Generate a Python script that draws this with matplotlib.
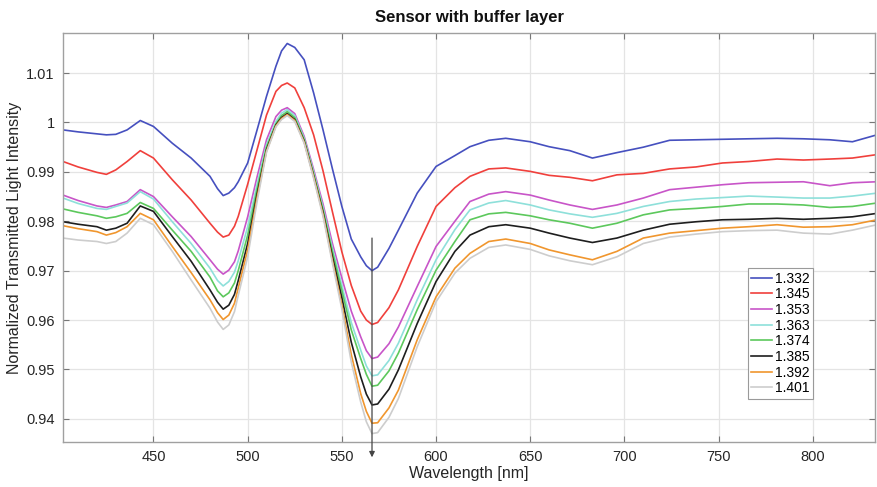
import matplotlib
matplotlib.use("Agg")
import matplotlib.pyplot as plt

plt.rcParams['font.family'] = ['Liberation Sans', 'DejaVu Sans']

wavelength = [402, 410, 420, 425, 430, 436, 443, 450, 460, 470,
              480, 484, 487, 490, 493, 495, 500, 505, 510, 515,
              518, 521, 525, 530, 535, 540, 545, 550, 555, 560,
              563, 566, 569, 575, 580, 590, 600, 610, 618, 628,
              637, 650, 660, 671, 683, 696, 710, 724, 738, 752,
              766, 781, 795, 809, 821, 834]

ri_1332 = [0.9985, 0.9981, 0.9977, 0.9975, 0.9976, 0.9985, 1.0004, 0.9992, 0.9958, 0.9928,
           0.9891, 0.9866, 0.9852, 0.9857, 0.9868, 0.9880, 0.9918, 0.9985, 1.0053, 1.0114,
           1.0145, 1.0160, 1.0152, 1.0127, 1.0060, 0.9985, 0.9906, 0.9830, 0.9764, 0.9728,
           0.9710, 0.9700, 0.9707, 0.9745, 0.9782, 0.9857, 0.9911, 0.9933, 0.9951, 0.9964,
           0.9968, 0.9961, 0.9951, 0.9943, 0.9928, 0.9939, 0.9950, 0.9964, 0.9965, 0.9966,
           0.9967, 0.9968, 0.9967, 0.9965, 0.9961, 0.9975]
ri_1345 = [0.9921, 0.9910, 0.9899, 0.9895, 0.9904, 0.9921, 0.9943, 0.9928, 0.9884, 0.9843,
           0.9796, 0.9778, 0.9768, 0.9772, 0.9790, 0.9810, 0.9875, 0.9945, 1.0015, 1.0063,
           1.0075, 1.0080, 1.0070, 1.0030, 0.9975, 0.9902, 0.9819, 0.9738, 0.9670, 0.9618,
           0.9600, 0.9591, 0.9595, 0.9625, 0.9661, 0.9749, 0.9830, 0.9868, 0.9891, 0.9906,
           0.9908, 0.9901, 0.9893, 0.9889, 0.9882, 0.9894, 0.9897, 0.9906, 0.9910, 0.9918,
           0.9921, 0.9926, 0.9924, 0.9926, 0.9928, 0.9935]
ri_1353 = [0.9853, 0.9842, 0.9831, 0.9828, 0.9833, 0.9840, 0.9864, 0.9850, 0.9809, 0.9769,
           0.9722, 0.9703, 0.9693, 0.9701, 0.9718, 0.9740, 0.9809, 0.9890, 0.9965, 1.0012,
           1.0025, 1.0030, 1.0018, 0.9972, 0.9905, 0.9835, 0.9755, 0.9685, 0.9618, 0.9566,
           0.9538, 0.9522, 0.9525, 0.9552, 0.9586, 0.9668, 0.9749, 0.9800, 0.9840, 0.9855,
           0.9860, 0.9853, 0.9843, 0.9833, 0.9824, 0.9833, 0.9847, 0.9864, 0.9869, 0.9874,
           0.9878, 0.9879, 0.9880, 0.9872, 0.9878, 0.9880]
ri_1363 = [0.9847, 0.9836, 0.9826, 0.9824, 0.9830, 0.9837, 0.9860, 0.9845, 0.9799, 0.9755,
           0.9705, 0.9680, 0.9669, 0.9678, 0.9697, 0.9720, 0.9789, 0.9875, 0.9955, 1.0002,
           1.0019, 1.0026, 1.0014, 0.9968, 0.9900, 0.9828, 0.9745, 0.9670, 0.9595, 0.9539,
           0.9507, 0.9487, 0.9489, 0.9518, 0.9553, 0.9641, 0.9722, 0.9783, 0.9823, 0.9837,
           0.9842, 0.9833, 0.9823, 0.9815, 0.9808, 0.9816, 0.9830, 0.9840, 0.9845, 0.9848,
           0.9851, 0.9849, 0.9847, 0.9847, 0.9851, 0.9857]
ri_1374 = [0.9825, 0.9818, 0.9811, 0.9806, 0.9809, 0.9816, 0.9838, 0.9826, 0.9782, 0.9739,
           0.9687, 0.9659, 0.9647, 0.9655, 0.9675, 0.9700, 0.9772, 0.9865, 0.9950, 0.9997,
           1.0014, 1.0022, 1.0010, 0.9965, 0.9896, 0.9823, 0.9738, 0.9660, 0.9580, 0.9522,
           0.9490, 0.9466, 0.9468, 0.9497, 0.9533, 0.9621, 0.9701, 0.9759, 0.9803, 0.9815,
           0.9818, 0.9811, 0.9803, 0.9796, 0.9786, 0.9796, 0.9813, 0.9823, 0.9826, 0.9830,
           0.9835, 0.9835, 0.9833, 0.9828, 0.9830, 0.9837]
ri_1385 = [0.9799, 0.9794, 0.9789, 0.9782, 0.9786, 0.9796, 0.9831, 0.9820, 0.9769, 0.9719,
           0.9661, 0.9636, 0.9622, 0.9630, 0.9652, 0.9680, 0.9755, 0.9855, 0.9945, 0.9995,
           1.0010, 1.0018, 1.0006, 0.9962, 0.9892, 0.9818, 0.9728, 0.9645, 0.9555, 0.9485,
           0.9450, 0.9428, 0.9430, 0.9460, 0.9499, 0.9593, 0.9678, 0.9739, 0.9772, 0.9789,
           0.9793, 0.9786, 0.9776, 0.9766, 0.9757, 0.9766, 0.9782, 0.9794, 0.9799, 0.9803,
           0.9804, 0.9806, 0.9804, 0.9806, 0.9809, 0.9816]
ri_1392 = [0.9791, 0.9785, 0.9779, 0.9772, 0.9777, 0.9789, 0.9816, 0.9803, 0.9749, 0.9696,
           0.9641, 0.9615, 0.9601, 0.9610, 0.9634, 0.9665, 0.9742, 0.9848, 0.9942, 0.9993,
           1.0008, 1.0016, 1.0004, 0.9960, 0.9890, 0.9814, 0.9720, 0.9630, 0.9530, 0.9451,
           0.9415, 0.9391, 0.9392, 0.9422, 0.9458, 0.9560, 0.9647, 0.9705, 0.9735, 0.9759,
           0.9764, 0.9755, 0.9742, 0.9732, 0.9722, 0.9739, 0.9766, 0.9776, 0.9781, 0.9786,
           0.9789, 0.9793, 0.9788, 0.9789, 0.9793, 0.9803]
ri_1401 = [0.9766, 0.9762, 0.9759, 0.9755, 0.9759, 0.9776, 0.9806, 0.9793, 0.9739, 0.9681,
           0.9624, 0.9596, 0.9581, 0.9590, 0.9617, 0.9650, 0.9728, 0.9840, 0.9940, 0.9991,
           1.0006, 1.0014, 1.0002, 0.9958, 0.9887, 0.9810, 0.9715, 0.9622, 0.9515, 0.9434,
           0.9394, 0.9370, 0.9372, 0.9403, 0.9441, 0.9546, 0.9637, 0.9695, 0.9725, 0.9747,
           0.9752, 0.9743, 0.9730, 0.9720, 0.9712, 0.9728, 0.9755, 0.9768, 0.9774, 0.9779,
           0.9781, 0.9782, 0.9776, 0.9774, 0.9782, 0.9793]

labels = ['1.332', '1.345', '1.353', '1.363', '1.374', '1.385', '1.392', '1.401']
series = [ri_1332, ri_1345, ri_1353, ri_1363, ri_1374, ri_1385, ri_1392, ri_1401]
colors = ['#4650bf', '#f0403c', '#c855c8', '#8ee0da', '#5cc85c', '#1e1e1e', '#f0962e', '#cdcdcd']

x_ticks = [450, 500, 550, 600, 650, 700, 750, 800]
y_ticks = [0.94, 0.95, 0.96, 0.97, 0.98, 0.99, 1.00, 1.01]
y_ticklabels = ['0.94', '0.95', '0.96', '0.97', '0.98', '0.99', '1', '1.01']
arrow_wl = 566
arrow_top = 0.9766
arrow_bottom = 0.9322

fig = plt.figure(figsize=(8.78, 4.87), dpi=100)
ax = fig.add_axes([0.0718, 0.0924, 0.9248, 0.8396])

for vals, col, lab in zip(series, colors, labels):
    ax.plot(wavelength, vals, color=col, lw=1.2, label=lab, solid_joinstyle='round')

ax.set_xlim(402, 833)
ax.set_ylim(0.9353, 1.0181)
ax.set_xticks(x_ticks)
ax.set_yticks(y_ticks)
ax.set_yticklabels(y_ticklabels)
ax.grid(True, color='#e4e4e4', lw=0.9)
ax.set_axisbelow(True)
ax.tick_params(direction='in', length=4, width=0.8, color='#777777',
               labelsize=10.5, labelcolor='#262626', top=True, right=True, pad=6)
for s in ax.spines.values():
    s.set_color('#a0a0a0')
    s.set_linewidth(1.0)

ax.set_xlabel('Wavelength [nm]', fontsize=11.5, color='#262626', labelpad=1)
ax.set_ylabel('Normalized Transmitted Light Intensity', fontsize=11.5, color='#262626', labelpad=3)
ax.set_title('Sensor with buffer layer', fontsize=12, fontweight='bold', color='#111111', pad=8)

ax.annotate('', xy=(arrow_wl, arrow_bottom), xytext=(arrow_wl, arrow_top),
            annotation_clip=False,
            arrowprops=dict(arrowstyle='-|>', color='#444444', lw=0.9,
                            mutation_scale=8, shrinkA=0, shrinkB=0))

leg = ax.legend(loc='upper left', bbox_to_anchor=(0.8436, 0.4254), fontsize=10,
                frameon=True, fancybox=False, edgecolor='#9a9a9a', framealpha=1,
                handlelength=1.5, handletextpad=0.2, labelspacing=0.12,
                borderpad=0.25, borderaxespad=0)
leg.get_frame().set_linewidth(0.8)

fig.savefig('out.png', dpi=100)
